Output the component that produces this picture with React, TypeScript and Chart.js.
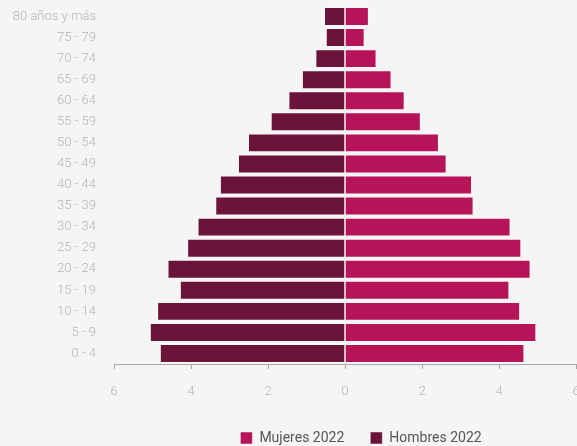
import React, { useEffect, useRef } from "react";
import { Chart, registerables } from "chart.js";

Chart.register(...registerables);

const ageGroups = [
  "0 - 4", "5 - 9", "10 - 14", "15 - 19", "20 - 24", "25 - 29", "30 - 34",
  "35 - 39", "40 - 44", "45 - 49", "50 - 54", "55 - 59", "60 - 64",
  "65 - 69", "70 - 74", "75 - 79", "80 años y más",
];

const mujeres2022 = [
  4.66, 4.97, 4.55, 4.27, 4.82, 4.58, 4.30, 3.34, 3.30, 2.64, 2.44, 1.97,
  1.55, 1.21, 0.82, 0.51, 0.62,
];

const hombres2022 = [
  4.81, 5.07, 4.88, 4.29, 4.61, 4.10, 3.83, 3.37, 3.25, 2.78, 2.52, 1.93,
  1.47, 1.12, 0.77, 0.50, 0.545,
];

const xTicks = [-6, -4, -2, 0, 2, 4, 6];

const COLOR_MUJERES = "#b71358";
const COLOR_HOMBRES = "#6a143a";
const FONT = "Roboto, 'Noto Sans', sans-serif";

const CANVAS_W = 577;
const CANVAS_H = 446;

const legendShift = {
  id: "legendShift",
  afterLayout(chart: any) {
    const lg = chart.legend;
    if (lg) {
      lg.left += 73;
      lg.right += 73;
      lg.top += 9;
      lg.bottom += 9;
    }
  },
};

export default function App() {
  const ref = useRef<HTMLCanvasElement | null>(null);

  useEffect(() => {
    if (!ref.current) return;
    const chart = new Chart(ref.current, {
      type: "bar",
      data: {
        labels: ageGroups,
        datasets: [
          {
            label: "Mujeres 2022",
            data: mujeres2022,
            backgroundColor: COLOR_MUJERES,
            borderColor: "rgba(255,255,255,0.45)",
            borderWidth: 1,
            barPercentage: 0.9,
            categoryPercentage: 1,
          },
          {
            label: "Hombres 2022",
            data: hombres2022.map((v) => -v),
            backgroundColor: COLOR_HOMBRES,
            borderColor: "rgba(255,255,255,0.45)",
            borderWidth: 1,
            barPercentage: 0.9,
            categoryPercentage: 1,
          },
        ],
      },
      options: {
        indexAxis: "y",
        animation: false,
        responsive: false,
        maintainAspectRatio: false,
        devicePixelRatio: 1,
        layout: { padding: { top: 6, left: 0, right: 1, bottom: 0 } },
        scales: {
          x: {
            type: "linear",
            min: -6,
            max: 6,
            stacked: true,
            afterBuildTicks: (scale: any) => {
              scale.ticks = xTicks.map((v) => ({ value: v }));
            },
            afterFit: (scale: any) => {
              scale.height = 32;
              scale.paddingLeft = 0;
              scale.paddingRight = 0;
            },
            grid: {
              drawOnChartArea: false,
              drawTicks: true,
              tickLength: 5,
              color: "#a8a8a8",
            },
            border: { display: true, color: "#a8a8a8", width: 1 },
            ticks: {
              padding: 15,
              color: "#b4b4b4",
              font: { family: FONT, size: 13, weight: "300" },
              callback: (v: any) => String(Math.abs(Number(v))),
            },
          },
          y: {
            type: "category",
            stacked: true,
            reverse: true,
            afterFit: (scale: any) => {
              scale.width = 114;
              scale.paddingTop = 0;
              scale.paddingBottom = 0;
            },
            grid: { display: false, drawTicks: false },
            border: { display: false },
            ticks: {
              padding: 18,
              color: "#b4b4b4",
              font: { family: FONT, size: 13, weight: "300" },
              autoSkip: false,
            },
          },
        },
        plugins: {
          legend: {
            position: "bottom",
            labels: {
              boxWidth: 12,
              boxHeight: 12,
              padding: 26,
              color: "#555555",
              font: { family: FONT, size: 14 },
            },
          },
          tooltip: { enabled: false },
        },
      },
      plugins: [legendShift],
    });
    return () => chart.destroy();
  }, []);

  return (
    <div
      style={{
        position: "fixed",
        left: 0,
        top: 0,
        width: 577,
        height: 446,
        overflow: "hidden",
        background: "#f5f5f5",
      }}
    >
      <canvas
        ref={ref}
        width={CANVAS_W}
        height={CANVAS_H}
        style={{ display: "block", width: CANVAS_W, height: CANVAS_H }}
      />
    </div>
  );
}
